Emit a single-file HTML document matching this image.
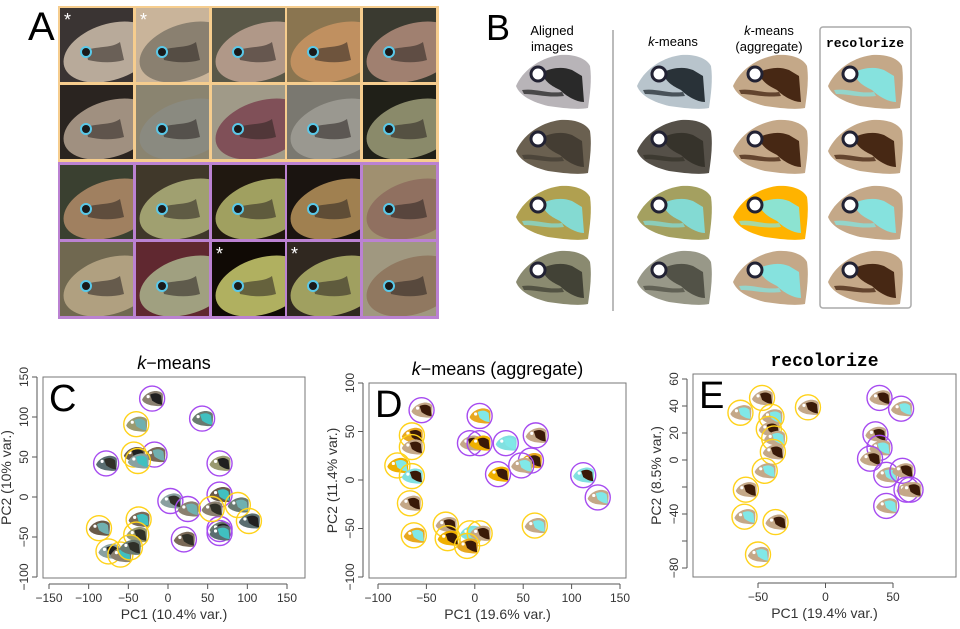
<!DOCTYPE html>
<html><head><meta charset="utf-8">
<style>
html,body{margin:0;padding:0;background:#fff;}
body{width:960px;height:624px;overflow:hidden;position:relative;font-family:"Liberation Sans","DejaVu Sans",sans-serif;}
svg text{font-family:"Liberation Sans","DejaVu Sans",sans-serif;}
</style></head>
<body>
<svg id="fig" width="960" height="624" viewBox="0 0 960 624" xmlns="http://www.w3.org/2000/svg">
<defs>
<path id="head" d="M-36,4 C-30,-10 -14,-24 8,-27 C22,-28 34,-24 38,-16 C40,-2 38,12 36,26 C26,28 10,26 -4,24 C-20,20 -32,14 -36,4 Z"/>
<clipPath id="tileclip"><rect x="0" y="0" width="73" height="74"/></clipPath>
</defs>
<text x="28" y="40" font-size="40">A</text>
<g id="panelA"></g>
<text x="486" y="40" font-size="36">B</text>
<g id="panelB">
<text x="552" y="35" font-size="13" text-anchor="middle">Aligned</text>
<text x="552" y="51" font-size="13" text-anchor="middle">images</text>
<line x1="613" y1="30" x2="613" y2="311" stroke="#bbb" stroke-width="2"/>
<text x="673" y="46" font-size="13" text-anchor="middle"><tspan font-style="italic">k</tspan>-means</text>
<text x="769" y="35" font-size="13" text-anchor="middle"><tspan font-style="italic">k</tspan>-means</text>
<text x="769" y="51" font-size="13" text-anchor="middle">(aggregate)</text>
<rect x="820" y="27" width="91" height="281" rx="3" fill="none" stroke="#aaa" stroke-width="1.5"/>
<text x="865" y="47" font-size="13" font-weight="bold" text-anchor="middle" font-family="Liberation Mono,monospace" style="font-family:'Liberation Mono',monospace">recolorize</text>
</g>
<g id="plots"></g>
</svg>
<script>
var NS="http://www.w3.org/2000/svg";
function mk(tag,attrs,parent){var e=document.createElementNS(NS,tag);for(var k in attrs)e.setAttribute(k,attrs[k]);parent.appendChild(e);return e;}

// ---- Panel A tiles
var tileBg=["#3a3433","#c9b49a","#5a5848","#8a7550","#3a3a30","#2a2420","#8a8470","#a09a88","#7a7870","#202018","#3a4030","#40382a","#201810","#1a1410","#a09070","#706850","#602830","#100a05","#302820","#a09880"];
var tileFish=["#b8aa9a","#8a8070","#b09888","#c09060","#a08070","#a09080","#8a8a80","#805058","#9a9890","#8a8a6a","#a08060","#a0a070","#a0a060","#a08050","#907060","#b0a080","#a0a080","#b0b060","#a0a060","#907860"];
var A=document.getElementById('panelA');
var ob=mk('rect',{x:58,y:6,width:381,height:156,fill:'#f6cd8e'},A);


var pb=mk('rect',{x:58,y:162,width:381,height:157,fill:'#bb82d2'},A);


var colX=[60,136,212,287,363],rowY=[8,85,165,242];
for(var i=0;i<20;i++){
  var r=Math.floor(i/5),c=i%5;
  var g=mk('g',{transform:'translate('+colX[c]+','+rowY[r]+')','clip-path':'url(#tileclip)'},A);
  
  
  mk('rect',{x:0,y:0,width:73,height:74,fill:tileBg[i]},g);
  mk('ellipse',{cx:50,cy:44,rx:48,ry:28,fill:tileFish[i],transform:'rotate(-18 50 44)'},g);
  mk('path',{d:'M26,42 C40,38 52,40 60,34 L64,52 C50,56 38,54 28,52Z',fill:'#2a2220',opacity:0.55},g);
  mk('circle',{cx:26,cy:44,r:5,fill:'#1a1a1a',stroke:'#5ac8e8','stroke-width':2},g);
  if(i==0||i==1||i==17||i==18){var s=mk('text',{x:4,y:18,'font-size':18,fill:'#fff'},g);s.textContent='*';
    
    }
}

// ---- Panel B fish heads
var B=document.getElementById('panelB');
var bCols=[552,673,769,864],bRows=[82,147,213,278];
var bBody=[["#b8b4b8","#6a6050","#b0a050","#8a8a70"],["#b8c4cc","#555048","#a4a060","#989888"],["#c4a888","#c4a888","#ffb300","#c4a888"],["#c4a888","#c4a888","#c4a888","#c4a888"]];
var bMark=[["#1a1a1a","#403a30","#80e0e0","#3a3a30"],["#1a2228","#333028","#80e0e0","#4a4a40"],["#3a1a08","#3a1a08","#80e8e8","#80e8e8"],["#80e8e8","#3a1a08","#80e8e8","#3a1a08"]];
for(var ci=0;ci<4;ci++)for(var ri=0;ri<4;ri++){
  var g=mk('g',{transform:'translate('+bCols[ci]+','+bRows[ri]+')'},B);
  
  
  mk('use',{href:'#head',fill:bBody[ci][ri]},g);
  mk('path',{d:'M-10,-10 C0,-14 10,-16 20,-12 L30,-6 L32,20 C24,20 14,14 8,8 C0,4 -8,0 -10,-10Z',fill:bMark[ci][ri],opacity:0.9},g);
  mk('path',{d:'M-30,8 C-16,6 -6,12 10,10 L12,14 C-4,16 -16,12 -28,12Z',fill:bMark[ci][ri],opacity:0.7},g);
  mk('circle',{cx:-14,cy:-8,r:7,fill:'#fff',stroke:'#223',"stroke-width":3},g);
}

// ---- Scatter data
var cX=[-20,43,-78,-17,65,65,3,25,65,65,20,-40,-43,-38,55,88,102,-37,-40,-87,-75,-60,-48];
var cY=[123,98,42,53,42,3,-5,-15,-40,-45,-53,91,53,45,-15,-10,-30,-28,-47,-39,-68,-72,-63];
var cG=["p","p","p","p","p","p","p","p","p","p","p","y","y","y","y","y","y","y","y","y","y","y","y"];
var dX=[-55,5,-5,5,32,63,58,48,24,112,127,-65,-65,-80,-65,-67,-63,-30,-28,-5,5,-8,62];
var dY=[72,66,38,38,38,46,20,15,6,5,-18,46,34,15,4,-24,-57,-46,-60,-55,-55,-68,-47];
var dG=["p","p","p","p","p","p","p","p","p","p","p","y","y","y","y","y","y","y","y","y","y","y","y"];
var eX=[-47,-63,-13,-40,-42,-38,-39,-45,-59,-60,-37,-50,40,56,37,40,33,45,57,60,63,45];
var eY=[46,35,39,32,23,16,6,-8,-22,-42,-46,-70,46,38,19,9,1,-11,-8,-22,-22,-34];
var eG=["y","y","y","y","y","y","y","y","y","y","y","y","p","p","p","p","p","p","p","p","p","p"];
var cXTicks=[-150,-100,-50,0,50,100,150], cYTicks=[150,100,50,0,-50,-100];
var dXTicks=[-100,-50,0,50,100,150], dYTicks=[100,50,0,-50,-100];
var eXTicks=[-50,0,50], eYTicks=[60,40,20,0,-40,-80];
var eYTickLabels=["60","40","20","0","−40","−80"];
var eYTickExtra=[-20,-60];

function lin(d0,d1,r0,r1){return function(v){return r0+(v-d0)*(r1-r0)/(d1-d0);};}
var P=document.getElementById('plots');
var stroke={p:'#a64bf0',y:'#ffd21a'};
function fmt(v){return v<0?'−'+Math.abs(v):String(v);}
function plot(o){
  var g=mk('g',{},P);
  
  
  var sx=lin(o.xd[0],o.xd[1],o.xr[0],o.xr[1]),sy=lin(o.yd[0],o.yd[1],o.yr[0],o.yr[1]);
  var t=mk('text',{x:(o.box[0]+o.box[2])/2,y:o.box[1]-8,'font-size':18,'text-anchor':'middle'},g);
  t.innerHTML=o.title;
  
  
  if(o.mono){t.setAttribute('style',"font-family:'Liberation Mono',monospace;font-weight:bold");}
  var bx=mk('rect',{x:o.box[0],y:o.box[1],width:o.box[2]-o.box[0],height:o.box[3]-o.box[1],fill:'none',stroke:'#777','stroke-width':1},g);
  
  
  var L=mk('text',{x:o.box[0]+6,y:o.box[1]+34,'font-size':38},g);L.textContent=o.letter;
  
  
  // x axis
  var xa=mk('line',{x1:sx(o.xt[0]),x2:sx(o.xt[o.xt.length-1]),y1:o.box[3]+6,y2:o.box[3]+6,stroke:'#555'},g);
  
  
  o.xt.forEach(function(v){
    mk('line',{x1:sx(v),x2:sx(v),y1:o.box[3]+6,y2:o.box[3]+11,stroke:'#555'},g);
    var tx=mk('text',{x:sx(v),y:o.box[3]+24,'font-size':12,'text-anchor':'middle',fill:'#333'},g);tx.textContent=fmt(v);
    
    
  });
  var yt=o.yt.concat(o.yExtra||[]);
  var ya=mk('line',{x1:o.box[0]-6,x2:o.box[0]-6,y1:sy(Math.max.apply(null,yt)),y2:sy(Math.min.apply(null,yt)),stroke:'#555'},g);
  
  
  yt.forEach(function(v){mk('line',{x1:o.box[0]-11,x2:o.box[0]-6,y1:sy(v),y2:sy(v),stroke:'#555'},g);});
  o.yt.forEach(function(v,i){
    var ty=mk('text',{x:o.box[0]-15,y:sy(v),'font-size':12,'text-anchor':'middle',fill:'#333',transform:'rotate(-90 '+(o.box[0]-15)+' '+sy(v)+')'},g);
    ty.textContent=o.ytl?o.ytl[i]:fmt(v);
    
    
  });
  var xl=mk('text',{x:(o.box[0]+o.box[2])/2,y:o.box[3]+41,'font-size':14,'text-anchor':'middle',fill:'#333'},g);xl.textContent=o.xlab;
  
  
  var yx=o.box[0]-32,yy=(o.box[1]+o.box[3])/2;
  var yl=mk('text',{x:yx,y:yy,'font-size':14,'text-anchor':'middle',fill:'#333',transform:'rotate(-90 '+yx+' '+yy+')'},g);yl.textContent=o.ylab;
  
  
  for(var i=0;i<o.X.length;i++){
    var px=sx(o.X[i]),py=sy(o.Y[i]);
    var m=mk('g',{transform:'translate('+px+','+py+')'},g);
    
    
    var col=o.body[i%o.body.length];
    mk('use',{href:'#head',fill:col,transform:'scale(0.28)'},m);
    mk('path',{d:'M-2,-4 C2,-6 6,-6 9,-3 L10,6 C6,6 3,4 0,2Z',fill:o.mark[i%o.mark.length]},m);
    mk('circle',{cx:-4,cy:-2,r:1.6,fill:'#fff'},m);
    mk('circle',{cx:0,cy:0,r:12.5,fill:'none',stroke:stroke[o.G[i]],'stroke-width':1.4},m);
  }
}
plot({name:'kmeans-pca-plot',letter:'C',title:'<tspan font-style="italic">k</tspan>−means',box:[43,377,305,578],
  xd:[-150,150],xr:[49,287],yd:[150,-100],yr:[377,577],xt:cXTicks,yt:cYTicks,
  xlab:'PC1 (10.4% var.)',ylab:'PC2 (10% var.)',X:cX,Y:cY,G:cG,
  body:['#8a8070','#6a7a70','#5a6e70','#7a6a58','#9a9a70','#6a5a48','#8aa0a0'],mark:['#202020','#40c0c0','#303028','#70b0b0']});
plot({name:'kmeans-aggregate-pca-plot',letter:'D',title:'<tspan font-style="italic">k</tspan>−means (aggregate)',box:[369,383,626,578],
  xd:[-100,150],xr:[378,620],yd:[100,-100],yr:[383,577],xt:dXTicks,yt:dYTicks,
  xlab:'PC1 (19.6% var.)',ylab:'PC2 (11.4% var.)',X:dX,Y:dY,G:dG,
  body:['#c4a888','#e8a820','#c4a888','#f0b000','#80e0e0'],mark:['#3a1a08','#80e8e8','#3a1a08']});
plot({name:'recolorize-pca-plot',letter:'E',title:'recolorize',mono:true,box:[693,374,956,577],
  xd:[-50,50],xr:[758,893],yd:[60,-80],yr:[379,568],xt:eXTicks,yt:eYTicks,ytl:eYTickLabels,yExtra:eYTickExtra,
  xlab:'PC1 (19.4% var.)',ylab:'PC2 (8.5% var.)',X:eX,Y:eY,G:eG,
  body:['#c4a888'],mark:['#3a1a08','#80e8e8']});
</script>
</body></html>
